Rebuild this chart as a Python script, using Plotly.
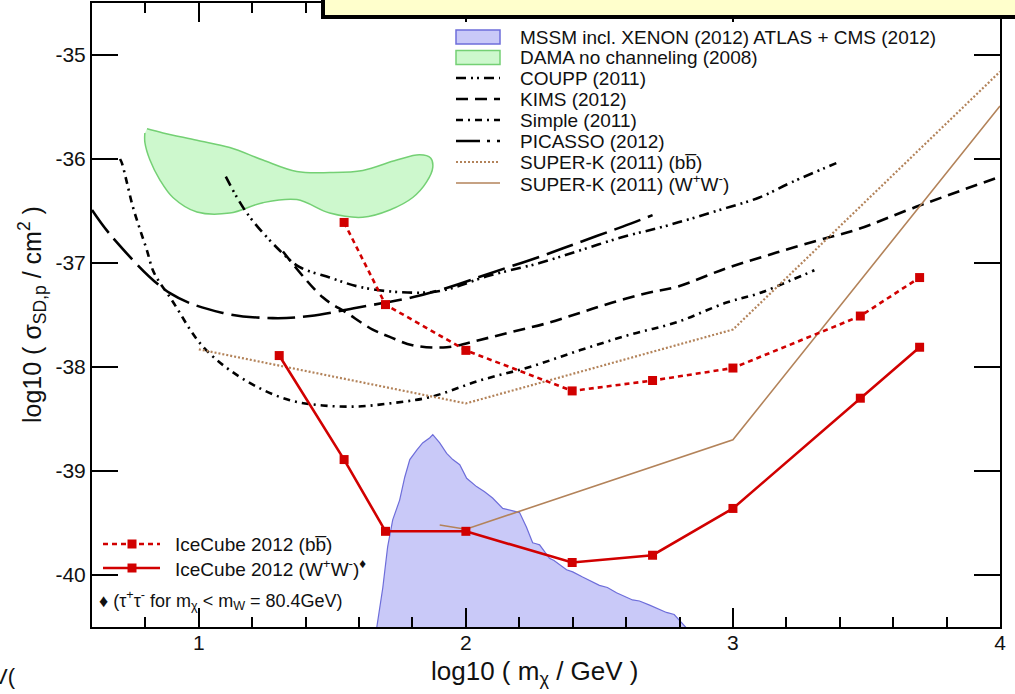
import plotly.graph_objects as go

# ---------------- data: log10(m_chi / GeV) vs log10(sigma_SD,p / cm^2) ----------------
icecube_bb_x = [1.544, 1.699, 2.0, 2.398, 2.699, 3.0, 3.477, 3.699]
icecube_bb_y = [-36.61, -37.40, -37.84, -38.23, -38.13, -38.01, -37.51, -37.14]

icecube_ww_x = [1.301, 1.544, 1.699, 2.0, 2.398, 2.699, 3.0, 3.477, 3.699]
icecube_ww_y = [-37.89, -38.89, -39.58, -39.58, -39.88, -39.81, -39.36, -38.30, -37.81]

superk_bb_x = [1.0, 2.0, 3.0, 4.0]
superk_bb_y = [-37.83, -38.35, -37.64, -35.16]

superk_ww_x = [1.902, 2.0, 3.0, 4.0]
superk_ww_y = [-39.52, -39.56, -38.70, -35.49]

coupp_x = [1.101, 1.18, 1.303, 1.378, 1.49, 1.603, 1.752, 1.902, 2.089, 2.276,
           2.426, 2.587, 2.725, 2.848, 2.976, 3.099, 3.223, 3.387]
coupp_y = [-36.17, -36.52, -36.88, -37.04, -37.14, -37.23, -37.28, -37.27, -37.12, -37.0,
           -36.88, -36.75, -36.66, -36.57, -36.47, -36.37, -36.22, -36.04]

kims_x = [1.315, 1.464, 1.554, 1.651, 1.715, 1.80, 1.928, 2.052, 2.175, 2.302, 2.426,
          2.549, 2.676, 2.789, 2.976, 3.163, 3.35, 3.462, 3.686, 4.0]
kims_y = [-36.89, -37.33, -37.48, -37.64, -37.71, -37.79, -37.81, -37.74, -37.66, -37.58,
          -37.48, -37.38, -37.29, -37.23, -37.05, -36.90, -36.76, -36.68, -36.46, -36.17]

simple_x = [0.705, 0.712, 0.731, 0.753, 0.78, 0.806, 0.828, 0.854, 0.892, 0.929, 0.967,
            1.004, 1.053, 1.116, 1.217, 1.341, 1.464, 1.591, 1.715, 1.865, 2.052, 2.239,
            2.426, 2.613, 2.789, 2.976, 3.099, 3.223, 3.305]
simple_y = [-36.0, -36.04, -36.23, -36.46, -36.68, -36.88, -37.07, -37.19, -37.33, -37.48,
            -37.64, -37.77, -37.90, -38.03, -38.19, -38.32, -38.37, -38.38, -38.35, -38.29,
            -38.13, -38.0, -37.84, -37.69, -37.57, -37.38, -37.29, -37.16, -37.07]

picasso_x = [0.6, 0.679, 0.892, 1.09, 1.277, 1.416, 1.591, 1.80, 1.928, 2.089, 2.276,
             2.426, 2.587, 2.699]
picasso_y = [-36.49, -36.76, -37.29, -37.48, -37.53, -37.51, -37.43, -37.33, -37.24, -37.10,
             -36.94, -36.80, -36.65, -36.54]

# DAMA allowed region outline (clockwise from the upper-left tip)
dama_x = [0.806, 0.866, 0.993, 1.116, 1.240, 1.367, 1.490, 1.614, 1.741, 1.827, 1.868,
          1.876, 1.853, 1.801, 1.715, 1.614, 1.490, 1.367, 1.240, 1.116, 0.993, 0.903,
          0.854, 0.817, 0.798, 0.798]
dama_y = [-35.71, -35.75, -35.82, -35.89, -36.01, -36.12, -36.13, -36.11, -36.01, -35.96,
          -35.99, -36.08, -36.22, -36.37, -36.49, -36.56, -36.52, -36.39, -36.42, -36.52,
          -36.51, -36.37, -36.20, -36.01, -35.84, -35.75]

mssm_x = [1.660, 1.666, 1.689, 1.707, 1.726, 1.752, 1.771, 1.790, 1.816, 1.838, 1.865,
          1.876, 1.902, 1.928, 1.951, 1.977, 2.003, 2.040, 2.070, 2.100, 2.138, 2.170,
          2.201, 2.227, 2.250, 2.263, 2.276, 2.313, 2.330, 2.377, 2.400, 2.437, 2.500,
          2.530, 2.564, 2.624, 2.650, 2.688, 2.751, 2.780, 2.800, 2.826, 2.840]
mssm_y = [-40.60, -40.51, -40.12, -39.73, -39.47, -39.28, -39.06, -38.89, -38.80, -38.73,
          -38.68, -38.65, -38.73, -38.83, -38.89, -38.94, -39.07, -39.15, -39.20, -39.26,
          -39.36, -39.38, -39.40, -39.54, -39.69, -39.70, -39.71, -39.84, -39.86, -39.95,
          -39.97, -40.02, -40.10, -40.12, -40.17, -40.24, -40.25, -40.29, -40.36, -40.38,
          -40.44, -40.51, -40.60]

x_ticks = [1, 2, 3, 4]
x_ticktext = ["1", "2", "3", "4"]
y_ticks = [-40, -39, -38, -37, -36, -35]
y_ticktext = ["-40", "-39", "-38", "-37", "-36", "-35"]

# ---------------- styling ----------------
FONT = "Liberation Sans, Arial, Helvetica, sans-serif"
RED = "#d10000"
BROWN = "#b3835a"
BLUE_FILL = "#c9c9f8"
BLUE_EDGE = "#6d6dda"
GREEN_FILL = "#cdf8cd"
GREEN_EDGE = "#74d074"

W, H = 1015, 694
ML, MR, MT, MB = 92, 15, 3, 67
PW, PH = W - ML - MR, H - MT - MB

DASH_COUPP = "10px,5px,2px,4px,2px,5px"
DASH_KIMS = "12px,7px"
DASH_SIMPLE = "7px,5px,2px,5px"
DASH_PICASSO = "28px,8px"
DASH_PICASSO_KEY = "24px,7px,3px,7px"
DASH_ICE = "5px,4px"
DOT_SK = "2px,2px"

fig = go.Figure()

# filled regions
fig.add_trace(go.Scatter(x=mssm_x, y=mssm_y, mode="lines", fill="toself",
                         fillcolor=BLUE_FILL, line=dict(color=BLUE_EDGE, width=1.2),
                         hoverinfo="skip", showlegend=False))
fig.add_trace(go.Scatter(x=dama_x, y=dama_y, mode="lines", fill="toself",
                         fillcolor=GREEN_FILL,
                         line=dict(color=GREEN_EDGE, width=1.5, shape="spline", smoothing=1.0),
                         hoverinfo="skip", showlegend=False))

# direct-detection limits
fig.add_trace(go.Scatter(x=picasso_x, y=picasso_y, mode="lines",
                         line=dict(color="black", width=2.6, dash=DASH_PICASSO, shape="spline"),
                         showlegend=False))
fig.add_trace(go.Scatter(x=simple_x, y=simple_y, mode="lines",
                         line=dict(color="black", width=2.6, dash=DASH_SIMPLE, shape="spline"),
                         showlegend=False))
fig.add_trace(go.Scatter(x=kims_x, y=kims_y, mode="lines",
                         line=dict(color="black", width=2.6, dash=DASH_KIMS, shape="spline"),
                         showlegend=False))
fig.add_trace(go.Scatter(x=coupp_x, y=coupp_y, mode="lines",
                         line=dict(color="black", width=2.6, dash=DASH_COUPP, shape="spline"),
                         showlegend=False))

# Super-K
fig.add_trace(go.Scatter(x=superk_bb_x, y=superk_bb_y, mode="lines",
                         line=dict(color=BROWN, width=2.2, dash=DOT_SK), showlegend=False))
fig.add_trace(go.Scatter(x=superk_ww_x, y=superk_ww_y, mode="lines",
                         line=dict(color=BROWN, width=1.6), showlegend=False))

# IceCube
fig.add_trace(go.Scatter(x=icecube_bb_x, y=icecube_bb_y, mode="lines+markers",
                         line=dict(color=RED, width=2.6, dash=DASH_ICE),
                         marker=dict(symbol="square", size=9, color=RED), showlegend=False))
fig.add_trace(go.Scatter(x=icecube_ww_x, y=icecube_ww_y, mode="lines+markers",
                         line=dict(color=RED, width=2.6),
                         marker=dict(symbol="square", size=9, color=RED), showlegend=False))


# ---------------- legends (pixel placement helpers) ----------------
def px(x):
    return (x - ML) / PW


def py(y):
    return (H - MB - y) / PH


shapes = []
annotations = []


def legend_line(x0, x1, y, color, width, dash):
    shapes.append(dict(type="line", xref="paper", yref="paper", x0=px(x0), x1=px(x1),
                       y0=py(y), y1=py(y), line=dict(color=color, width=width, dash=dash)))


def legend_box(x0, x1, y0, y1, fill, edge):
    shapes.append(dict(type="rect", xref="paper", yref="paper", x0=px(x0), x1=px(x1),
                       y0=py(y1), y1=py(y0), fillcolor=fill, line=dict(color=edge, width=1.5)))


def legend_text(x, y, text, size=19):
    annotations.append(dict(xref="paper", yref="paper", x=px(x), y=py(y), text=text,
                            showarrow=False, xanchor="left", yanchor="middle",
                            font=dict(family=FONT, size=size, color="#111")))


top_rows = [37, 57.5, 78, 99, 120, 141, 162, 183]
top_labels = ["MSSM incl. XENON (2012) ATLAS + CMS (2012)",
              "DAMA no channeling (2008)",
              "COUPP (2011)",
              "KIMS (2012)",
              "Simple (2011)",
              "PICASSO (2012)",
              "SUPER-K (2011) (bb\u0305)",
              "SUPER-K (2011) (W<sup>+</sup>W<sup>-</sup>)"]
lx0, lx1, ltx = 456, 500, 518
legend_box(lx0, lx1, top_rows[0] - 7, top_rows[0] + 7, BLUE_FILL, BLUE_EDGE)
legend_box(lx0, lx1, top_rows[1] - 7, top_rows[1] + 7, GREEN_FILL, GREEN_EDGE)
legend_line(lx0, lx1, top_rows[2], "black", 2.6, DASH_COUPP)
legend_line(lx0, lx1, top_rows[3], "black", 2.6, DASH_KIMS)
legend_line(lx0, lx1, top_rows[4], "black", 2.6, DASH_SIMPLE)
legend_line(lx0, lx1, top_rows[5], "black", 2.6, DASH_PICASSO_KEY)
legend_line(lx0, lx1, top_rows[6], BROWN, 2.2, DOT_SK)
legend_line(lx0, lx1, top_rows[7], BROWN, 1.6, "solid")
for yy, lab in zip(top_rows, top_labels):
    legend_text(ltx, yy, lab)

# IceCube legend, lower left
ice_rows = [544, 568]
legend_line(103, 160, ice_rows[0], RED, 2.6, DASH_ICE)
legend_line(103, 160, ice_rows[1], RED, 2.6, "solid")
for yy in ice_rows:
    shapes.append(dict(type="rect", xref="paper", yref="paper", x0=px(127.5), x1=px(136.5),
                       y0=py(yy + 4.5), y1=py(yy - 4.5), fillcolor=RED, line=dict(width=0)))
legend_text(173, ice_rows[0], "IceCube 2012 (bb\u0305)")
legend_text(173, ice_rows[1], "IceCube 2012 (W<sup>+</sup>W<sup>-</sup>)<sup>\u2666</sup>")
legend_text(97, 600, "\u2666 (\u03c4<sup>+</sup>\u03c4<sup>-</sup> for m<sub>\u03c7</sub> &lt; "
                     "m<sub>W</sub> = 80.4GeV)", size=18)

# framed note strip along the top edge
shapes.append(dict(type="rect", xref="paper", yref="paper", x0=px(323), x1=px(W + 10),
                   y0=py(17), y1=py(-10), fillcolor="#ffffcc",
                   line=dict(color="black", width=4), layer="above"))

# axis titles
annotations.append(dict(xref="paper", yref="paper", x=px(535), y=py(672), text=
                        "log10 ( m<sub>\u03c7</sub> / GeV )", showarrow=False,
                        xanchor="center", yanchor="middle",
                        font=dict(family=FONT, size=26, color="#111")))
annotations.append(dict(xref="paper", yref="paper", x=px(32), y=py(315), text=
                        "log10 ( \u03c3<sub>SD,p</sub> / cm<sup>2</sup> )", showarrow=False,
                        textangle=-90, xanchor="center", yanchor="middle",
                        font=dict(family=FONT, size=25, color="#111")))
# stray slide text at the lower-left edge
annotations.append(dict(xref="paper", yref="paper", x=px(-9), y=py(676), text="V(",
                        showarrow=False, xanchor="left", yanchor="middle",
                        font=dict(family=FONT, size=22, color="#111")))

axis_common = dict(showgrid=False, zeroline=False, showline=True, linecolor="black",
                   linewidth=2, mirror="ticks", ticks="inside", tickcolor="black",
                   tickfont=dict(family=FONT, size=21, color="#111"))

fig.update_layout(
    width=W, height=H,
    margin=dict(l=ML, r=MR, t=MT, b=MB, autoexpand=False),
    paper_bgcolor="white", plot_bgcolor="white",
    showlegend=False,
    shapes=shapes, annotations=annotations,
    xaxis=dict(range=[0.6, 4.0], tickvals=x_ticks, ticktext=x_ticktext,
               ticklen=19, tickwidth=2, ticklabelstandoff=-4,
               minor=dict(ticks="inside", tick0=0, dtick=0.2, ticklen=10, tickwidth=1.5,
                          tickcolor="black", showgrid=False),
               **axis_common),
    yaxis=dict(range=[-40.5, -34.5], tickvals=y_ticks, ticktext=y_ticktext,
               ticklen=26, tickwidth=2, **axis_common),
)

fig.write_html("out.html")
